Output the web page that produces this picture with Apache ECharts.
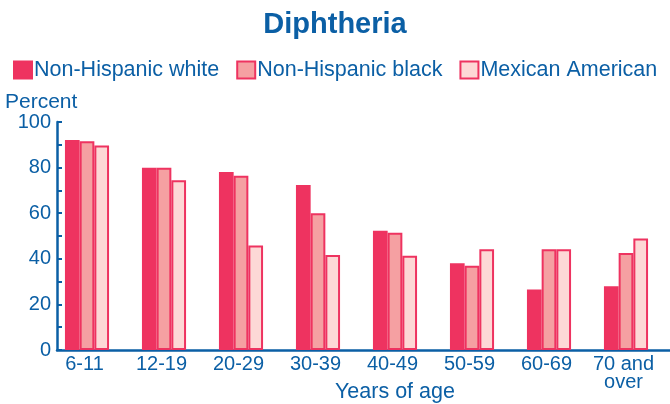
<!DOCTYPE html>
<html>
<head>
<meta charset="utf-8">
<script src="https://cdn.jsdelivr.net/npm/echarts@6/dist/echarts.min.js"></script>
<style>
  html, body { margin: 0; padding: 0; background: #fff; }
  #chart { width: 670px; height: 404px; }
</style>
</head>
<body>
<div id="chart"></div>
<script>
// Diphtheria immunity by age group and race/ethnicity
const ageGroups = ['6-11', '12-19', '20-29', '30-39', '40-49', '50-59', '60-69', '70 and\nover'];
const nhWhite   = [92.1, 79.9, 78.1, 72.4, 52.3, 38.0, 26.5, 28.0];
const nhBlack   = [91.6, 79.9, 76.4, 60.0, 51.4, 37.0, 44.2, 42.5];
const mexAm     = [89.7, 74.5, 45.8, 41.7, 41.3, 44.2, 44.2, 48.9];
const yTicks    = [0, 20, 40, 60, 80, 100];

const BLUE = '#0B5FA5';
const RED = '#EE3360';
const FONT = 'Liberation Sans';

const chart = echarts.init(document.getElementById('chart'), null, { renderer: 'canvas' });

const barStyle = (fill) => ({ color: fill, borderColor: RED, borderWidth: 2 });

chart.setOption({
  animation: false,
  textStyle: { fontFamily: FONT },
  title: [
    { text: 'Diphtheria', left: 'center', top: 5,
      textStyle: { color: BLUE, fontSize: 29, fontWeight: 'bold', fontFamily: FONT } },
    { text: 'Percent', left: 0, top: 87,
      textStyle: { color: BLUE, fontSize: 21, fontWeight: 'normal', fontFamily: FONT } },
    { text: 'Years of age', left: 330, top: 376,
      textStyle: { color: BLUE, fontSize: 21.5, fontWeight: 'normal', fontFamily: FONT } }
  ],
  legend: {
    left: 8, top: 54, icon: 'rect',
    itemWidth: 18, itemHeight: 17, itemGap: 17,
    textStyle: { color: BLUE, fontSize: 21.5, fontFamily: FONT, padding: [0, 0, 0, -3] },
    data: ['Non-Hispanic white', 'Non-Hispanic black', 'Mexican American']
  },
  grid: [
    { left: 48.5, right: 5.5, top: 122, bottom: 54 },
    { left: 57, right: 0, top: 122, bottom: 54 }
  ],
  xAxis: [
    {
      type: 'category', gridIndex: 0, data: ageGroups,
      axisLine: { show: false }, axisTick: { show: false },
      axisLabel: { color: BLUE, fontSize: 20, fontFamily: FONT, margin: 6, lineHeight: 17.5,
        padding: [0, 5, 0, 0], interval: 0 }
    },
    {
      type: 'value', gridIndex: 1, min: 0, max: 1,
      axisLine: { show: true, lineStyle: { color: BLUE, width: 2.5 } },
      axisTick: { show: false }, axisLabel: { show: false }, splitLine: { show: false }
    }
  ],
  yAxis: [
    { type: 'value', gridIndex: 0, min: 0, max: 100, show: false },
    {
      type: 'value', gridIndex: 1, min: 0, max: 100, interval: 20,
      axisLine: { show: true, lineStyle: { color: BLUE, width: 2.5 } },
      axisTick: { show: true, inside: true, length: 5, lineStyle: { color: BLUE, width: 2 } },
      minorTick: { show: true, splitNumber: 2, length: 5, lineStyle: { color: BLUE, width: 2 } },
      axisLabel: { color: BLUE, fontSize: 20, fontFamily: FONT, margin: 6,
        formatter: (v) => (yTicks.includes(v) ? String(v) : '') },
      splitLine: { show: false }
    }
  ],
  series: [
    { name: 'Non-Hispanic white', type: 'bar', xAxisIndex: 0, yAxisIndex: 0,
      data: nhWhite, barWidth: 14.7, barGap: '0%', itemStyle: barStyle(RED) },
    { name: 'Non-Hispanic black', type: 'bar', xAxisIndex: 0, yAxisIndex: 0,
      data: nhBlack, barWidth: 14.7, barGap: '0%', itemStyle: barStyle('#F5A0A2') },
    { name: 'Mexican American', type: 'bar', xAxisIndex: 0, yAxisIndex: 0,
      data: mexAm, barWidth: 14.7, barGap: '0%', itemStyle: barStyle('#FDD8D6') }
  ]
});
</script>
</body>
</html>
